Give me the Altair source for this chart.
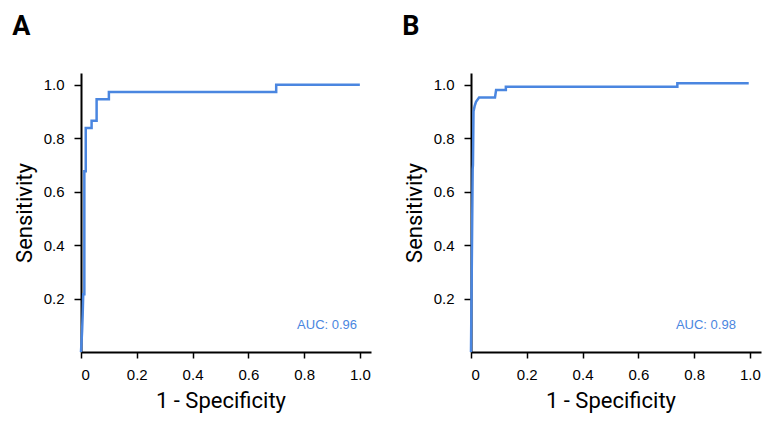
import altair as alt
import pandas as pd

# Panel A ROC curve
fpr_a = [0, 0.004, 0.006, 0.008, 0.012, 0.012, 0.017, 0.017, 0.038, 0.038,
         0.056, 0.056, 0.100, 0.100, 0.700, 0.700, 1.000]
sens_a = [0, 0.08, 0.14, 0.216, 0.216, 0.676, 0.676, 0.838, 0.838, 0.865,
          0.865, 0.946, 0.946, 0.973, 0.973, 1.0, 1.0]

# Panel B ROC curve
fpr_b = [0, 0.006, 0.007, 0.009, 0.013, 0.018, 0.029, 0.086, 0.090, 0.125,
         0.125, 0.740, 0.740, 0.996]
sens_b = [0, 0.685, 0.70, 0.90, 0.92, 0.936, 0.952, 0.952, 0.980, 0.980,
          0.993, 0.993, 1.006, 1.006]

panel_labels = ["A", "B"]
auc_labels = ["AUC: 0.96", "AUC: 0.98"]
auc_x = [0.99, 0.95]
auc_y = [0.10, 0.10]

x_ticks = [0, 0.2, 0.4, 0.6, 0.8, 1.0]
y_ticks = [0.2, 0.4, 0.6, 0.8, 1.0]

BLUE = "#4a86e0"
NARROW = "Roboto"
W = 290
H = 279


def panel(fpr, sens, label, auc, ax, ay):
    df = pd.DataFrame({"fpr": fpr, "sens": sens, "order": range(len(fpr))})
    xs = alt.Scale(domain=[0, 1.04], nice=False, zero=False)
    ys = alt.Scale(domain=[0, 1.044], nice=False, zero=False)
    line = alt.Chart(df).mark_line(color=BLUE, strokeWidth=2.5, interpolate="linear").encode(
        x=alt.X("fpr:Q", scale=xs, title="1 - Specificity",
                axis=alt.Axis(values=x_ticks,
                              labelExpr="datum.value == 0 ? '0' : format(datum.value, '.1f')",
                              titleX=139.5)),
        y=alt.Y("sens:Q", scale=ys, title="Sensitivity",
                axis=alt.Axis(values=y_ticks, format=".1f")),
        order="order:Q",
    )
    tdf = pd.DataFrame({"x": [ax], "y": [ay], "t": [auc]})
    txt = alt.Chart(tdf).mark_text(align="right", baseline="middle", color=BLUE,
                                   fontSize=13, font="Liberation Sans").encode(
        x=alt.X("x:Q", scale=xs), y=alt.Y("y:Q", scale=ys), text="t:N")
    return alt.layer(line, txt).properties(
        width=W, height=H,
        title=alt.TitleParams(label, anchor="start", fontSize=27, fontWeight="bold",
                              font=NARROW, offset=32, dx=-1),
    )


chart = alt.hconcat(
    panel(fpr_a, sens_a, panel_labels[0], auc_labels[0], auc_x[0], auc_y[0]),
    panel(fpr_b, sens_b, panel_labels[1], auc_labels[1], auc_x[1], auc_y[1]),
    spacing=31,
).configure_view(stroke=None).configure_axis(
    grid=False,
    domainColor="black", domainWidth=2,
    tickColor="black", tickWidth=1.5, tickSize=7,
    labelFont="Liberation Sans", labelFontSize=15, labelColor="black", labelPadding=10,
    titleFont=NARROW, titleFontSize=22, titleFontWeight="normal", titleColor="black",
).configure_axisX(tickSize=6, labelPadding=9, titlePadding=8).configure_axisY(
    titlePadding=7
).properties(background="white", padding={"left": 4, "top": 5, "right": 5, "bottom": 5})

chart.save("out.html", embed_options={"renderer": "svg", "actions": False})
